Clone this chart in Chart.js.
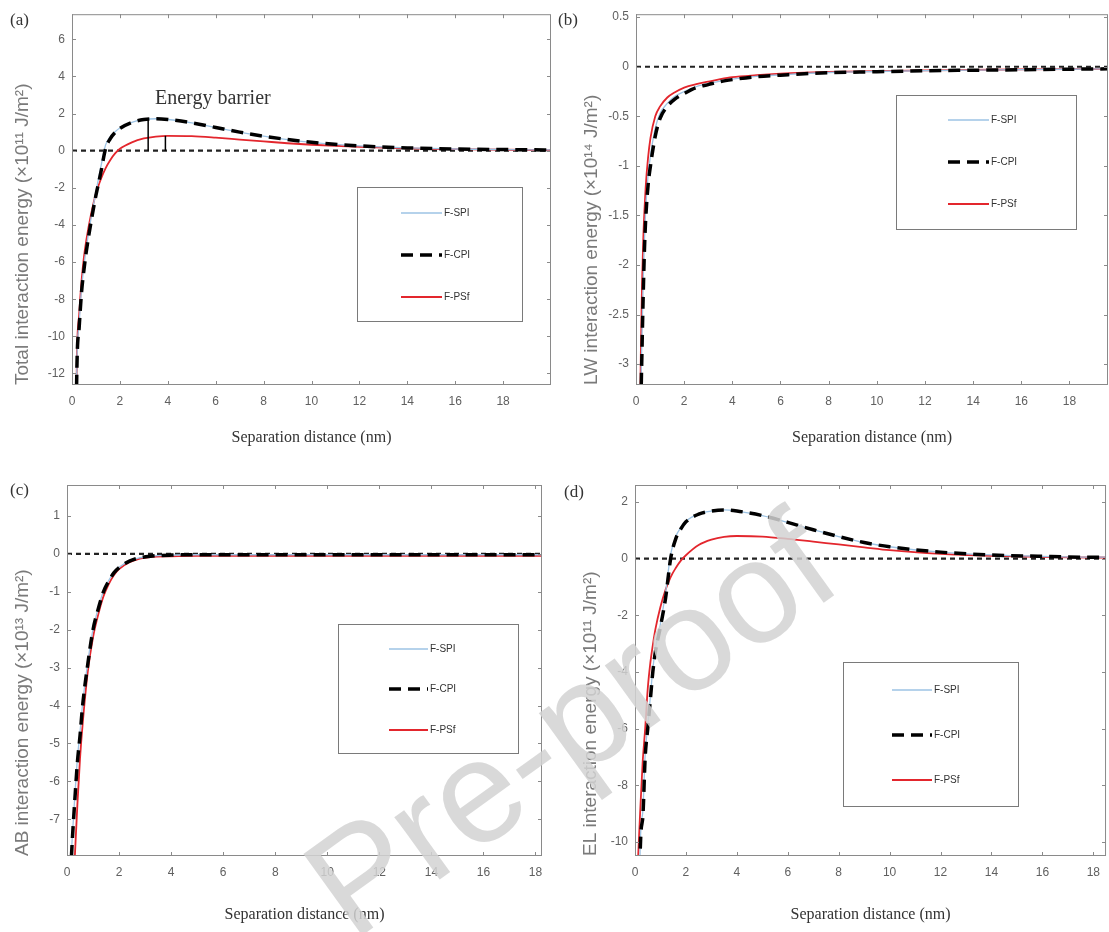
<!DOCTYPE html>
<html>
<head>
<meta charset="utf-8">
<script src="https://cdn.jsdelivr.net/npm/chart.js@4.4.1/dist/chart.umd.min.js"></script>
<style>
  body { margin: 0; background: #fff; }
  #wrap { position: relative; width: 1109px; height: 932px; overflow: hidden; background: #fff; }
  .panel { position: absolute; }
  .tag { position: absolute; font: 17px "Liberation Serif", "Times New Roman", serif; color: #333; }
  .note { position: absolute; font: 20px "Liberation Serif", "Times New Roman", serif; color: #333; white-space: nowrap; }
  .wm { position: absolute; left: 570px; top: 724px; transform: translate(-50%, -50%) rotate(-35.8deg);
        font: 146px "Liberation Sans", Arial, sans-serif; line-height: 1; color: rgba(210, 210, 210, 0.85);
        white-space: nowrap; pointer-events: none; }
</style>
</head>
<body>
<div id="wrap">
  <div class="panel" style="left:0;top:0"><canvas id="chartA" width="560" height="455"></canvas></div>
  <div class="panel" style="left:560px;top:0"><canvas id="chartB" width="549" height="455"></canvas></div>
  <div class="panel" style="left:0;top:460px"><canvas id="chartC" width="560" height="472"></canvas></div>
  <div class="panel" style="left:560px;top:460px"><canvas id="chartD" width="549" height="472"></canvas></div>
  <div class="tag" style="left:10px;top:10px">(a)</div>
  <div class="tag" style="left:558px;top:10px">(b)</div>
  <div class="tag" style="left:10px;top:480px">(c)</div>
  <div class="tag" style="left:564px;top:482px">(d)</div>
  <div class="note" style="left:155px;top:86px">Energy barrier</div>
  <div class="wm">Pre-proof</div>
</div>
<script>
const seriesNames = ['F-SPI', 'F-CPI', 'F-PSf'];
const ticksX = [0, 2, 4, 6, 8, 10, 12, 14, 16, 18];

// (a) total interaction energy
const distA = [0.1, 0.2, 0.3, 0.4, 0.5, 0.6, 0.8, 1.0, 1.2, 1.4, 1.6, 1.8, 2.0, 2.5, 3.0, 3.5, 4.0, 5, 6, 7, 8, 9, 10, 12, 14, 16, 18, 20];
const totalSPI = [-25, -11.8, -9.3, -7.4, -6.2, -5.2, -3.6, -2.2, -0.9, 0.3, 0.75, 1.02, 1.22, 1.53, 1.68, 1.72, 1.68, 1.5, 1.25, 1.0, 0.78, 0.6, 0.45, 0.26, 0.15, 0.09, 0.06, 0.04];
const totalCPI = [-25, -12.0, -9.5, -7.6, -6.4, -5.4, -3.8, -2.4, -1.2, 0.1, 0.65, 0.98, 1.2, 1.52, 1.68, 1.72, 1.68, 1.5, 1.25, 1.0, 0.78, 0.6, 0.45, 0.26, 0.15, 0.09, 0.06, 0.04];
const totalPSf = [-25, -11.5, -8.8, -7.0, -5.7, -4.8, -3.4, -2.3, -1.55, -0.95, -0.5, -0.15, 0.1, 0.45, 0.66, 0.76, 0.8, 0.78, 0.7, 0.6, 0.5, 0.4, 0.32, 0.2, 0.12, 0.08, 0.05, 0.03];
const ticksYA = [-12, -10, -8, -6, -4, -2, 0, 2, 4, 6];
const barrierX = [3.18, 3.9];
const barrierTop = [1.68, 0.8];

// (b) LW
const distB = [0.1, 0.2, 0.25, 0.3, 0.35, 0.4, 0.5, 0.6, 0.8, 1.0, 1.3, 1.6, 2, 2.5, 3, 3.5, 4, 5, 6, 7, 8, 10, 12, 14, 16, 18, 20];
const lwSPI = [-7, -3.4, -2.7, -2.15, -1.75, -1.45, -1.1, -0.9, -0.62, -0.47, -0.37, -0.3, -0.25, -0.2, -0.17, -0.145, -0.125, -0.098, -0.082, -0.068, -0.058, -0.048, -0.04, -0.034, -0.029, -0.025, -0.02];
const lwCPI = [-8, -3.6, -2.85, -2.3, -1.85, -1.55, -1.2, -1.0, -0.7, -0.52, -0.4, -0.33, -0.27, -0.21, -0.18, -0.15, -0.13, -0.1, -0.085, -0.07, -0.06, -0.05, -0.04, -0.035, -0.03, -0.025, -0.02];
const lwPSf = [-5, -2.9, -2.2, -1.75, -1.45, -1.22, -0.92, -0.72, -0.5, -0.4, -0.31, -0.26, -0.21, -0.175, -0.15, -0.125, -0.105, -0.085, -0.07, -0.06, -0.053, -0.045, -0.037, -0.032, -0.027, -0.023, -0.02];
const ticksYB = [-3, -2.5, -2, -1.5, -1, -0.5, 0, 0.5];

// (c) AB
const distC = [0.1, 0.2, 0.3, 0.4, 0.5, 0.6, 0.8, 1.0, 1.2, 1.4, 1.6, 1.8, 2.0, 2.4, 2.8, 3.2, 4, 5, 6, 8, 10, 12, 14, 16, 18, 18.25];
const abSPI = [-8.8, -7.5, -6.4, -5.4, -4.7, -3.95, -2.85, -1.98, -1.43, -0.98, -0.7, -0.49, -0.35, -0.18, -0.1, -0.06, -0.03, -0.02, -0.02, -0.02, -0.02, -0.02, -0.02, -0.02, -0.02, -0.02];
const abCPI = [-9.0, -7.6, -6.5, -5.5, -4.8, -4.0, -2.9, -2.0, -1.45, -1.0, -0.72, -0.5, -0.36, -0.19, -0.1, -0.06, -0.03, -0.02, -0.02, -0.02, -0.02, -0.02, -0.02, -0.02, -0.02, -0.02];
const abPSf = [-11, -9.4, -8.0, -6.6, -5.4, -4.5, -3.1, -2.2, -1.6, -1.12, -0.8, -0.56, -0.4, -0.22, -0.12, -0.08, -0.06, -0.05, -0.05, -0.05, -0.05, -0.05, -0.05, -0.05, -0.05, -0.05];
const ticksYC = [-7, -6, -5, -4, -3, -2, -1, 0, 1];

// (d) EL
const distD = [0.1, 0.2, 0.3, 0.4, 0.5, 0.6, 0.7, 0.8, 1.0, 1.2, 1.4, 1.6, 1.8, 2.0, 2.5, 3.0, 3.5, 4.0, 5, 6, 7, 8, 9, 10, 12, 14, 16, 18, 18.5];
const elSPI = [-25, -10.3, -9.0, -6.9, -5.9, -4.9, -3.9, -3.2, -2.3, -1.2, 0.15, 0.78, 1.1, 1.32, 1.58, 1.68, 1.72, 1.68, 1.52, 1.28, 1.02, 0.78, 0.57, 0.42, 0.23, 0.13, 0.08, 0.05, 0.05];
const elCPI = [-25, -10.5, -9.2, -7.0, -6.0, -5.0, -4.0, -3.3, -2.4, -1.4, 0.0, 0.7, 1.05, 1.3, 1.57, 1.68, 1.72, 1.68, 1.52, 1.28, 1.02, 0.78, 0.57, 0.42, 0.23, 0.13, 0.08, 0.05, 0.05];
const elPSf = [-11, -9.0, -7.2, -6.0, -4.6, -3.7, -3.05, -2.5, -1.7, -1.1, -0.65, -0.33, -0.07, 0.12, 0.48, 0.67, 0.77, 0.8, 0.78, 0.7, 0.6, 0.5, 0.4, 0.3, 0.17, 0.1, 0.06, 0.04, 0.04];
const ticksYD = [-10, -8, -6, -4, -2, 0, 2];

const sans = '"Liberation Sans", Arial, sans-serif';
const serif = '"Liberation Serif", "Times New Roman", serif';

const styleSPI = {borderColor: '#9cc3e4', borderWidth: 1.3, order: 1};
const styleCPI = {borderColor: '#000000', borderWidth: 3.5, borderDash: [12, 7], order: 0};
const stylePSf = {borderColor: '#e3262d', borderWidth: 1.8, order: 2};
const styleZero = {borderColor: '#222222', borderWidth: 2.2, borderDash: [5, 4], order: 3};

const pts = (xs, ys) => xs.map((x, i) => ({x, y: ys[i]}));
const line = (data, style) => Object.assign({data, pointRadius: 0, fill: false, cubicInterpolationMode: 'monotone'}, style);

// box round the axes with inward ticks on all four sides
const frame = {
	id: 'frame',
	afterDatasetsDraw(chart) {
		const {ctx, chartArea: a, scales: {x, y}} = chart;
		ctx.save();
		ctx.strokeStyle = '#8a8a8a';
		ctx.lineWidth = 1;
		ctx.strokeRect(a.left + 0.5, a.top + 0.5, a.right - a.left - 1, a.bottom - a.top - 1);
		ctx.beginPath();
		x.ticks.forEach(t => {
			const px = Math.round(x.getPixelForValue(t.value)) + 0.5;
			ctx.moveTo(px, a.bottom); ctx.lineTo(px, a.bottom - 4);
			ctx.moveTo(px, a.top); ctx.lineTo(px, a.top + 4);
		});
		y.ticks.forEach(t => {
			const py = Math.round(y.getPixelForValue(t.value)) + 0.5;
			ctx.moveTo(a.left, py); ctx.lineTo(a.left + 4, py);
			ctx.moveTo(a.right, py); ctx.lineTo(a.right - 4, py);
		});
		ctx.stroke();
		ctx.restore();
	}
};

const boxLegend = pos => ({
	id: 'boxLegend',
	afterDraw(chart) {
		const {ctx} = chart;
		ctx.save();
		ctx.fillStyle = '#fff';
		ctx.fillRect(pos.left, pos.top, pos.width, pos.height);
		ctx.strokeStyle = '#7a7a7a';
		ctx.lineWidth = 1;
		ctx.strokeRect(pos.left + 0.5, pos.top + 0.5, pos.width, pos.height);
		seriesNames.forEach((name, i) => {
			const d = chart.data.datasets[i];
			const yy = pos.rows[i];
			ctx.strokeStyle = d.borderColor;
			ctx.lineWidth = d.borderWidth;
			ctx.setLineDash(d.borderDash || []);
			ctx.beginPath();
			ctx.moveTo(pos.x1, yy);
			ctx.lineTo(pos.x2, yy);
			ctx.stroke();
			ctx.setLineDash([]);
			ctx.fillStyle = '#333';
			ctx.font = '10px ' + sans;
			ctx.textBaseline = 'middle';
			ctx.fillText(name, pos.x2 + 2, yy);
		});
		ctx.restore();
	}
});

function panel(id, o) {
	const datasets = [
		line(pts(o.x, o.spi), styleSPI),
		line(pts(o.x, o.cpi), styleCPI),
		line(pts(o.x, o.psf), stylePSf),
		line([{x: 0, y: 0}, {x: o.xMax, y: 0}], styleZero)
	].concat(o.extra || []);
	return new Chart(document.getElementById(id), {
		type: 'line',
		data: {datasets},
		options: {
			responsive: false,
			animation: false,
			devicePixelRatio: 1,
			layout: {padding: o.pad},
			plugins: {legend: {display: false}, tooltip: {enabled: false}},
			scales: {
				x: {
					type: 'linear', min: 0, max: o.xMax,
					afterBuildTicks: s => { s.ticks = ticksX.map(v => ({value: v})); },
					afterFit: s => { s.height = o.xH; },
					grid: {display: false, drawTicks: false},
					border: {display: false},
					ticks: {padding: 9, maxRotation: 0, autoSkip: false, color: '#606060', font: {family: sans, size: 12}, callback: v => String(v)},
					title: {display: true, text: 'Separation distance (nm)', color: '#333', font: {family: serif, size: 16}, padding: {top: 0, bottom: 7.4}}
				},
				y: {
					type: 'linear', min: o.yMin, max: o.yMax,
					afterBuildTicks: s => { s.ticks = o.yTicks.map(v => ({value: v})); },
					afterFit: s => { s.width = o.yW; },
					grid: {display: false, drawTicks: false},
					border: {display: false},
					ticks: {padding: 7, autoSkip: false, color: '#606060', font: {family: sans, size: 12}, callback: v => String(v)},
					title: {display: true, text: o.yTitle, align: 'start', color: '#7a7a7a', font: {family: sans, size: 19}, padding: {top: o.yTitlePad, bottom: 0}}
				}
			}
		},
		plugins: [frame, boxLegend(o.legend)]
	});
}

const barrierLines = barrierX.map((bx, i) => line([{x: bx, y: 0}, {x: bx, y: barrierTop[i]}],
	{borderColor: '#000', borderWidth: 1.5, order: -1, cubicInterpolationMode: 'default'}));

panel('chartA', {
	x: distA, spi: totalSPI, cpi: totalCPI, psf: totalPSf, extra: barrierLines,
	xMax: 20, yMin: -12.62, yMax: 7.35, yTicks: ticksYA,
	yTitle: 'Total interaction energy (×10¹¹ J/m²)', yTitlePad: 11,
	pad: {left: 0, top: 11, right: 9, bottom: 0}, yW: 72, xH: 70,
	legend: {left: 357, top: 187, width: 165, height: 134, rows: [213, 255, 297], x1: 401, x2: 442}
});

panel('chartB', {
	x: distB, spi: lwSPI, cpi: lwCPI, psf: lwPSf,
	xMax: 19.6, yMin: -3.21, yMax: 0.53, yTicks: ticksYB,
	yTitle: 'LW interaction energy (×10¹⁴ J/m²)', yTitlePad: 20,
	pad: {left: 0, top: 11, right: 1, bottom: 0}, yW: 76, xH: 70,
	legend: {left: 336, top: 95, width: 180, height: 134, rows: [120, 162, 204], x1: 388, x2: 429}
});

panel('chartC', {
	x: distC, spi: abSPI, cpi: abCPI, psf: abPSf,
	xMax: 18.25, yMin: -7.97, yMax: 1.82, yTicks: ticksYC,
	yTitle: 'AB interaction energy (×10¹³ J/m²)', yTitlePad: 11,
	pad: {left: 0, top: 25, right: 18, bottom: 0}, yW: 67, xH: 76,
	legend: {left: 338, top: 164, width: 180, height: 129, rows: [189, 229, 270], x1: 389, x2: 428}
});

panel('chartD', {
	x: distD, spi: elSPI, cpi: elCPI, psf: elPSf,
	xMax: 18.5, yMin: -10.5, yMax: 2.6, yTicks: ticksYD,
	yTitle: 'EL interaction energy (×10¹¹ J/m²)', yTitlePad: 19,
	pad: {left: 0, top: 25, right: 1, bottom: 0}, yW: 75, xH: 76,
	legend: {left: 283, top: 202, width: 175, height: 144, rows: [230, 275, 320], x1: 332, x2: 372}
});
</script>
</body>
</html>
